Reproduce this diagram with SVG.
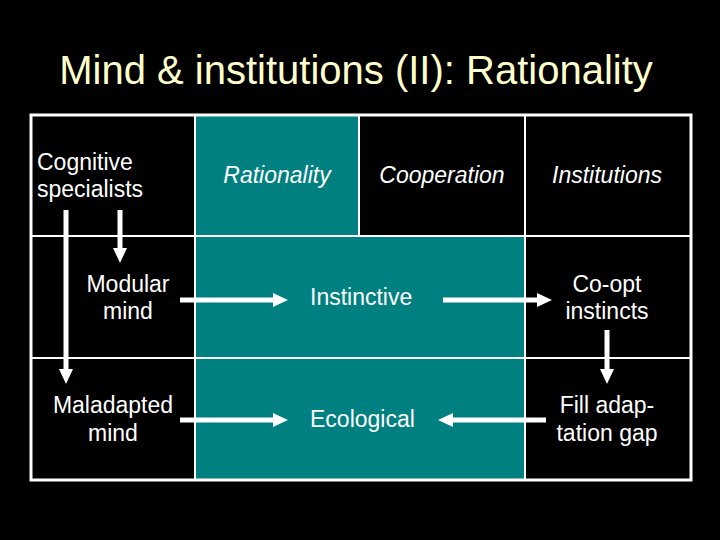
<svg xmlns="http://www.w3.org/2000/svg" width="720" height="540" viewBox="0 0 720 540">
  <defs>
    <style>
      .t { font-family: "Liberation Sans", Arial, sans-serif; font-size: 23px; fill: #ffffff; }
      .c { text-anchor: middle; }
      .i { font-style: italic; }
      .title { font-family: "Liberation Sans", Arial, sans-serif; font-size: 40px; fill: #ffffcc; text-anchor: middle; }
      .grid { stroke: #ffffff; stroke-width: 2; fill: none; }
      .conn { stroke: #ffffff; stroke-width: 5; fill: none; marker-end: url(#ah); }
    </style>
    <marker id="ah" markerUnits="userSpaceOnUse" markerWidth="16" markerHeight="16" viewBox="0 0 16 16" refX="3" refY="8" orient="auto">
      <path d="M0,1 L15,8 L0,15 z" fill="#ffffff"/>
    </marker>
  </defs>
  <rect width="720" height="540" fill="#000000"/>
  <text class="title" x="356" y="84">Mind &amp; institutions (II): Rationality</text>

  <g id="backgrounds">
    <rect x="195" y="115" width="164" height="121" fill="#008080"/>
    <rect x="195" y="236" width="330" height="244" fill="#008080"/>
  </g>
  <g id="grid">
    <line class="grid" x1="195" y1="115" x2="195" y2="480"/>
    <line class="grid" x1="359" y1="115" x2="359" y2="236"/>
    <line class="grid" x1="525" y1="115" x2="525" y2="480"/>
    <line class="grid" x1="31" y1="236" x2="691" y2="236"/>
    <line class="grid" x1="31" y1="358" x2="691" y2="358"/>
    <rect x="31" y="115" width="660" height="365" fill="none" stroke="#ffffff" stroke-width="3"/>
  </g>

  <g id="n-cognitive"><text class="t" x="37" y="170">Cognitive</text><text class="t" x="37" y="197">specialists</text></g>
  <g id="n-rationality"><text class="t c i" x="277" y="183">Rationality</text></g>
  <g id="n-cooperation"><text class="t c i" x="442" y="183">Cooperation</text></g>
  <g id="n-institutions"><text class="t c i" x="607" y="183">Institutions</text></g>
  <g id="n-modular"><text class="t c" x="128" y="292">Modular</text><text class="t c" x="128" y="319">mind</text></g>
  <g id="n-maladapted"><text class="t c" x="113" y="413">Maladapted</text><text class="t c" x="113" y="441">mind</text></g>
  <g id="n-instinctive"><text class="t" x="310" y="305">Instinctive</text></g>
  <g id="n-ecological"><text class="t" x="310" y="427">Ecological</text></g>
  <g id="n-coopt"><text class="t c" x="607" y="292">Co-opt</text><text class="t c" x="607" y="319">instincts</text></g>
  <g id="n-fill"><text class="t c" x="607" y="413">Fill adap-</text><text class="t c" x="607" y="441">tation gap</text></g>

  <g id="connectors">
    <line class="conn" x1="120" y1="210" x2="120" y2="251"/>
    <line class="conn" x1="66" y1="210" x2="66" y2="372"/>
    <line class="conn" x1="180" y1="300" x2="276" y2="300"/>
    <line class="conn" x1="180" y1="420" x2="276" y2="420"/>
    <line class="conn" x1="443" y1="300" x2="540" y2="300"/>
    <line class="conn" x1="607" y1="330" x2="607" y2="372"/>
    <line class="conn" x1="546" y1="420" x2="450" y2="420"/>
  </g>
</svg>
